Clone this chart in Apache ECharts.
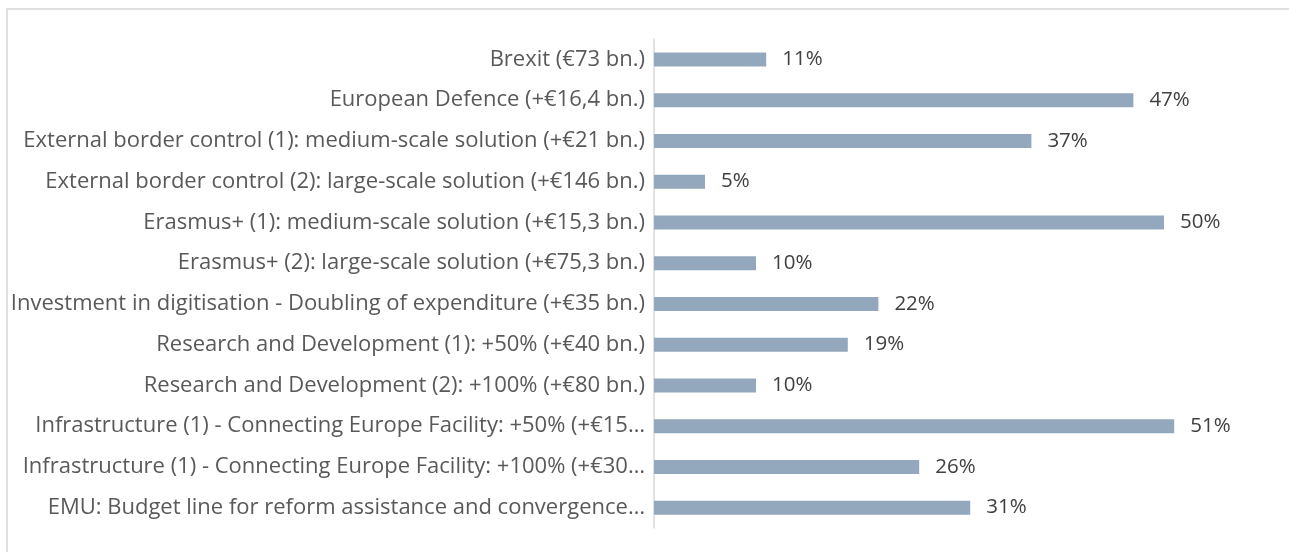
<!DOCTYPE html>
<html lang="en">
<head>
    <meta charset="UTF-8">
    <title>Bar chart</title>
    <script src="https://cdn.jsdelivr.net/npm/echarts@6/dist/echarts.min.js"></script>
    <style>
        html, body { margin: 0; padding: 0; background: #fff; }
        #chart { position: absolute; left: 0; top: 0; width: 1289px; height: 552px; }
        .frame {
            position: absolute; left: 6px; top: 8px; width: 1300px; height: 560px;
            border-top: 2px solid #e0e0e0; border-left: 2px solid #e0e0e0;
            pointer-events: none;
        }
    </style>
</head>
<body>
    <div id="chart"></div>
    <div class="frame"></div>
    <script>
        var categories = [
            'Brexit (€73 bn.)',
            'European Defence (+€16,4 bn.)',
            'External border control (1): medium-scale solution (+€21 bn.)',
            'External border control (2): large-scale solution (+€146 bn.)',
            'Erasmus+ (1): medium-scale solution (+€15,3 bn.)',
            'Erasmus+ (2): large-scale solution (+€75,3 bn.)',
            'Investment in digitisation - Doubling of expenditure (+€35 bn.)',
            'Research and Development (1): +50% (+€40 bn.)',
            'Research and Development (2): +100% (+€80 bn.)',
            'Infrastructure (1) - Connecting Europe Facility: +50% (+€15…',
            'Infrastructure (1) - Connecting Europe Facility: +100% (+€30…',
            'EMU: Budget line for reform assistance and convergence…'
        ];
        var shares = [11, 47, 37, 5, 50, 10, 22, 19, 10, 51, 26, 31];

        var chart = echarts.init(document.getElementById('chart'));
        var font = '"Open Sans", "Noto Sans", sans-serif';

        chart.setOption({
            animation: false,
            grid: { left: 654, right: 23, top: 39, bottom: 24 },
            xAxis: {
                type: 'value',
                min: 0,
                max: 60,
                show: false
            },
            yAxis: {
                type: 'category',
                inverse: true,
                data: categories,
                axisLine: { lineStyle: { color: '#d9d9d9', width: 1.5 } },
                axisTick: { show: false },
                axisLabel: {
                    margin: 9,
                    color: '#595959',
                    fontSize: 22,
                    fontFamily: font
                }
            },
            series: [{
                type: 'bar',
                data: shares,
                barWidth: 14,
                itemStyle: { color: '#93a8bd' },
                label: {
                    show: true,
                    position: 'right',
                    distance: 16,
                    formatter: '{c}%',
                    color: '#404040',
                    fontSize: 20.5,
                    fontFamily: font
                }
            }]
        });
    </script>
</body>
</html>
